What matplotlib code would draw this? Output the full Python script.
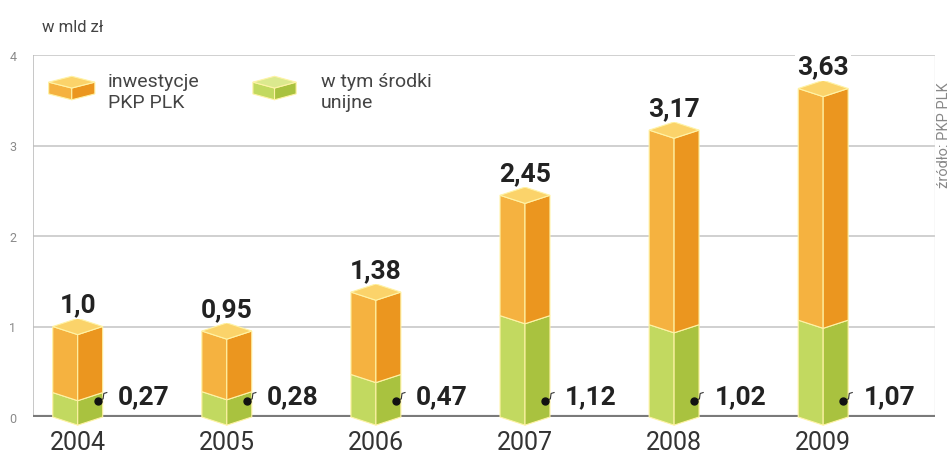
import numpy as np
import matplotlib
matplotlib.use("Agg")
import matplotlib.pyplot as plt
from matplotlib.patches import Polygon

plt.rcParams['font.family'] = ['Roboto', 'DejaVu Sans']

years = ['2004', '2005', '2006', '2007', '2008', '2009']
total = [1.0, 0.95, 1.38, 2.45, 3.17, 3.63]
eu = [0.27, 0.28, 0.47, 1.12, 1.02, 1.07]
total_labels = ['1,0', '0,95', '1,38', '2,45', '3,17', '3,63']
eu_labels = ['0,27', '0,28', '0,47', '1,12', '1,02', '1,07']

OR_L, OR_R, OR_T = '#f5b240', '#eb961f', '#fbd36a'
GR_L, GR_R, GR_T = '#c2d960', '#a9c23f', '#dbe98e'
EDGE = '#fff3a6'


def block(ax, x, y0, y1, w, d, cl, cr, ct=None):
    # front-left face, front-right face, optional top diamond
    left = [(x - w/2, y0), (x, y0 - d), (x, y1 - d), (x - w/2, y1)]
    right = [(x, y0 - d), (x + w/2, y0), (x + w/2, y1), (x, y1 - d)]
    ax.add_patch(Polygon(left, closed=True, fc=cl, ec=EDGE, lw=0.8, zorder=3, clip_on=False))
    ax.add_patch(Polygon(right, closed=True, fc=cr, ec=EDGE, lw=0.8, zorder=3, clip_on=False))
    if ct is not None:
        top = [(x - w/2, y1), (x, y1 - d), (x + w/2, y1), (x, y1 + d)]
        ax.add_patch(Polygon(top, closed=True, fc=ct, ec=EDGE, lw=0.8, zorder=4, clip_on=False))


fig = plt.figure(figsize=(9.53, 4.56), dpi=100)
ax = fig.add_axes([33/953, 38/456, 902/953, 362/456])
ax.set_xlim(-0.30, 5.75)
ax.set_ylim(0, 4)

for g in [1, 2, 3, 4]:
    ax.axhline(g, color='#c8c8c8', lw=1.2, zorder=1)
ax.axhline(0, color='#7a7a7a', lw=3, zorder=2)
ax.axvline(-0.30, color='#bdbdbd', lw=1.2, zorder=1)
ax.axvline(5.75, color='#e0e0e0', lw=1.0, zorder=1)

for s in ax.spines.values():
    s.set_visible(False)
ax.set_xticks([])
ax.set_yticks([0, 1, 2, 3, 4])
ax.set_yticklabels(['0', '1', '2', '3', '4'], color='#8a8a8a', fontsize=9)
ax.tick_params(axis='y', length=0, pad=12)

w = 0.335
d = 0.09
for i in range(len(years)):
    block(ax, i, 0, eu[i], w, d, GR_L, GR_R)
    block(ax, i, eu[i], total[i], w, d, OR_L, OR_R, OR_T)
    ax.text(i, total[i] + 0.11, total_labels[i], ha='center', va='bottom',
            fontsize=19, fontweight='bold', color='#222222', zorder=6,
            bbox=dict(fc='white', ec='none', pad=1.5))
    # marker dot and small connector to the EU value
    dx, dy = i + 0.135, 0.18
    ax.plot([dx, dx + 0.035, dx + 0.04, dx + 0.06], [dy, dy + 0.02, dy + 0.08, dy + 0.09],
            color='#333333', lw=0.8, zorder=5, clip_on=False)
    ax.plot(dx, dy, 'o', color='#111111', ms=5, zorder=6, clip_on=False)
    ax.text(i + 0.27, 0.23, eu_labels[i], ha='left', va='center',
            fontsize=19, fontweight='bold', color='#222222', zorder=6)
    ax.text(i, -0.28, years[i], ha='center', va='center', fontsize=18,
            color='#333333', clip_on=False)

# legend
block(ax, -0.04, 3.57, 3.70, 0.31, 0.065, OR_L, OR_R, OR_T)
ax.text(0.20, 3.60, 'inwestycje\nPKP PLK', ha='left', va='center', fontsize=14,
        color='#444444', linespacing=1.2, zorder=6)
block(ax, 1.32, 3.57, 3.70, 0.29, 0.065, GR_L, GR_R, GR_T)
ax.text(1.63, 3.60, 'w tym środki\nunijne', ha='left', va='center', fontsize=14,
        color='#444444', linespacing=1.2, zorder=6)

fig.text(42/953, 1 - 27/456, 'w mld zł', ha='left', va='center', fontsize=12, color='#444444')
fig.text(944/953, 1 - 135/456, 'źródło: PKP PLK', rotation=90, ha='center', va='center',
         fontsize=10.5, color='#888888')

fig.savefig('out.png', dpi=100)
